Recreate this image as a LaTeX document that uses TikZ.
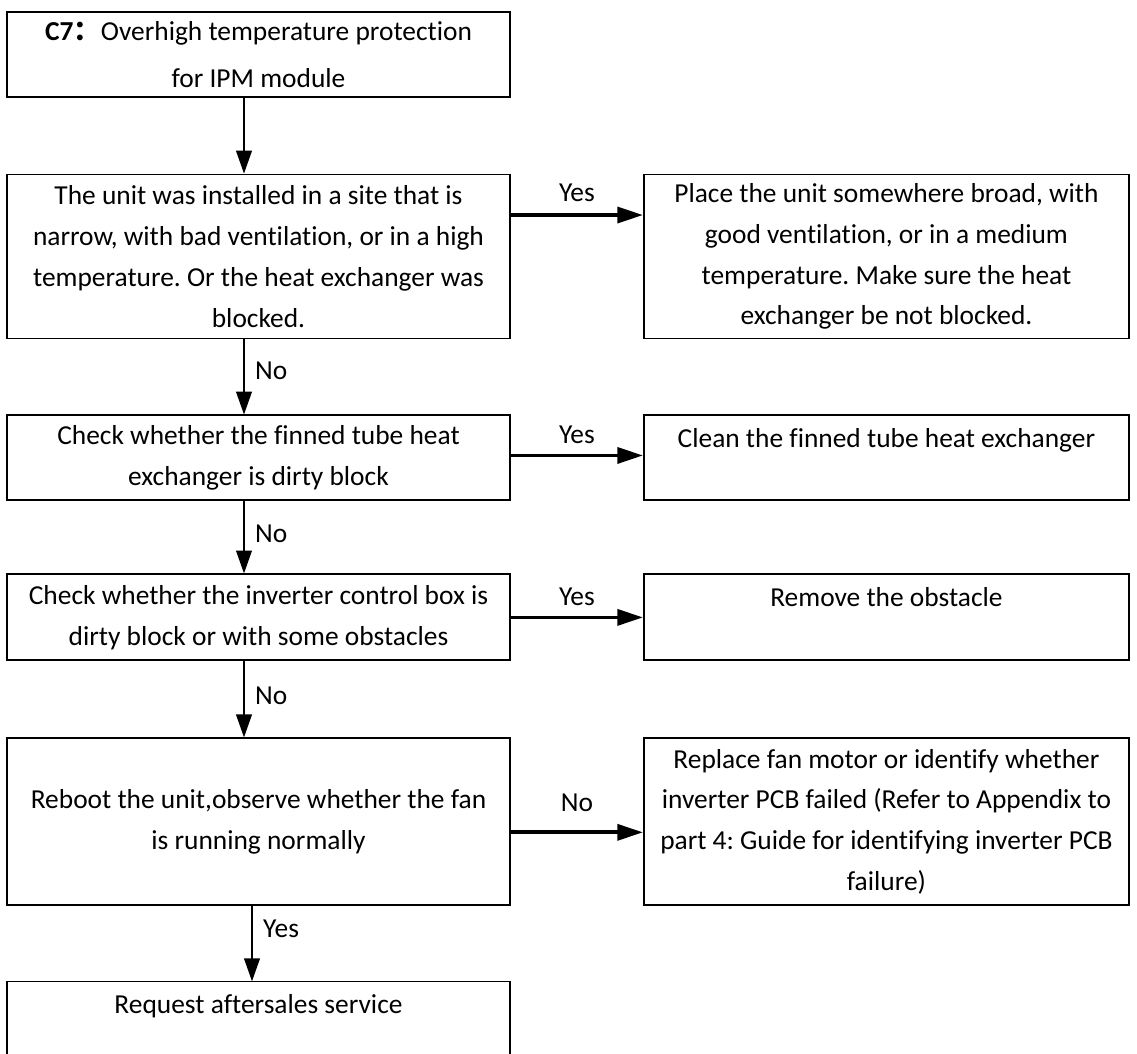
\documentclass[tikz,border=0pt]{standalone}
\usepackage{fontspec}
\setmainfont[Ligatures=NoCommon]{Carlito}
\newfontfamily\cjkfont{Noto Sans CJK SC}
\usepackage{tikz}
\usetikzlibrary{positioning,arrows.meta}
\frenchspacing
\tikzset{
  stepbox/.style={draw=black, line width=1.1pt, align=center, inner sep=0pt, font=\fontsize{15.6}{23.25}\selectfont},
  thinbox/.style={stepbox, line width=0.6pt},
  leftbox/.style={minimum width=10.06cm},
  rightbox/.style={minimum width=9.70cm},
  downarr/.style={-{Triangle[length=13pt, width=9pt]}, line width=0.75pt},
  sidearr/.style={-{Triangle[length=14.5pt, width=9pt]}, line width=2.1pt},
  lbl/.style={inner sep=0pt, font=\fontsize{15.6}{18}\selectfont}
}

\begin{document}
\begin{tikzpicture}
      \useasboundingbox (-5.17,1.09) rectangle (17.57,-19.97);
      % left column
      \node[thinbox, leftbox, minimum height=1.70cm, font=\fontsize{15.6}{26.6}\selectfont] (b1) at (0,0) {{\bfseries C7}{\cjkfont\bfseries ：}Overhigh temperature protection\\for IPM module};
      \node[stepbox, leftbox, minimum height=3.28cm, below=1.52cm of b1] (b2) {The unit was installed in a site that is\\narrow, with bad ventilation, or in a high\\temperature. Or the heat exchanger was\\blocked.};
      \node[stepbox, leftbox, minimum height=1.70cm, below=1.50cm of b2] (b3) {Check whether the finned tube heat\\exchanger is dirty block};
      \node[stepbox, leftbox, minimum height=1.72cm, below=1.44cm of b3] (b4) {Check whether the inverter control box is\\dirty block or with some obstacles};
      \node[stepbox, leftbox, minimum height=3.34cm, below=1.52cm of b4] (b5) {Reboot the unit,observe whether the fan\\is running normally};
      \node[thinbox, leftbox, minimum height=1.70cm, below=1.50cm of b5] (b6) {Request aftersales service\\\mbox{}};
      % right column
      \node[stepbox, rightbox, minimum height=3.28cm, right=2.64cm of b2] (r2) {Place the unit somewhere broad, with\\good ventilation, or in a medium\\temperature. Make sure the heat\\exchanger be not blocked.};
      \node[stepbox, rightbox, minimum height=1.70cm, right=2.64cm of b3] (r3) {Clean the finned tube heat exchanger\\\mbox{}};
      \node[stepbox, rightbox, minimum height=1.72cm, right=2.64cm of b4] (r4) {Remove the obstacle\\\mbox{}};
      \node[stepbox, rightbox, minimum height=3.34cm, right=2.64cm of b5] (r5) {Replace fan motor or identify whether\\inverter PCB failed (Refer to Appendix to\\part 4: Guide for identifying inverter PCB\\failure)};
      % down arrows
      \draw[downarr] ([xshift=-0.29cm]b1.south) -- ([xshift=-0.29cm]b2.north);
      \draw[downarr] ([xshift=-0.29cm]b2.south) -- node[lbl, pos=0.42, right=6pt] {No} ([xshift=-0.29cm]b3.north);
      \draw[downarr] ([xshift=-0.29cm]b3.south) -- node[lbl, pos=0.45, right=6pt] {No} ([xshift=-0.29cm]b4.north);
      \draw[downarr] ([xshift=-0.29cm]b4.south) -- node[lbl, pos=0.45, right=6pt] {No} ([xshift=-0.29cm]b5.north);
      \draw[downarr] ([xshift=-0.13cm]b5.south) -- node[lbl, pos=0.3, right=6pt] {Yes} ([xshift=-0.13cm]b6.north);
      % side arrows
      \draw[sidearr] ([yshift=-0.83cm]b2.north east) -- node[lbl, midway, yshift=0.44cm] {Yes} ([yshift=-0.83cm]r2.north west);
      \draw[sidearr] ([yshift=-0.82cm]b3.north east) -- node[lbl, midway, yshift=0.42cm] {Yes} ([yshift=-0.82cm]r3.north west);
      \draw[sidearr] ([yshift=-0.88cm]b4.north east) -- node[lbl, midway, yshift=0.42cm] {Yes} ([yshift=-0.88cm]r4.north west);
      \draw[sidearr] ([yshift=-1.90cm]b5.north east) -- node[lbl, midway, yshift=0.60cm] {No} ([yshift=-1.90cm]r5.north west);
    \end{tikzpicture}
\end{document}
